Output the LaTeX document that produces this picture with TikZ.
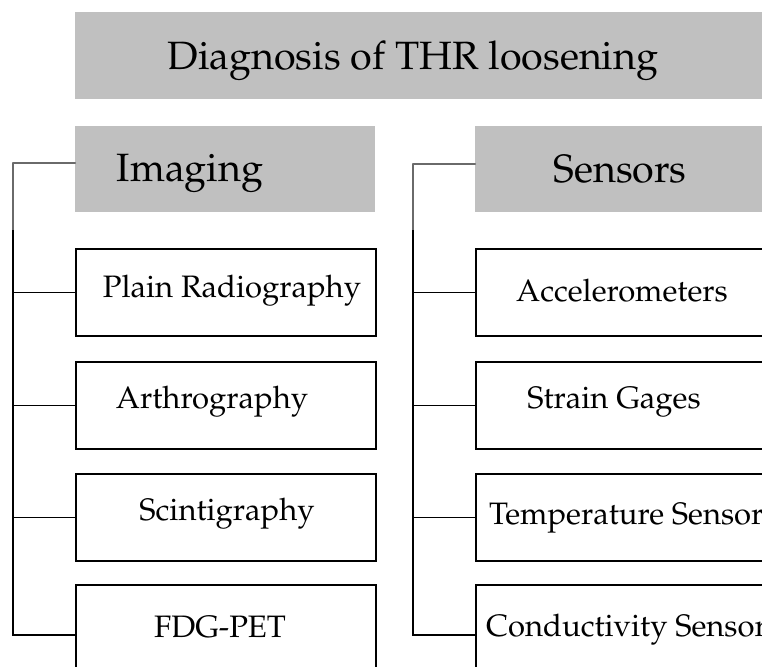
\documentclass[tikz,border=0pt]{standalone}
\usepackage[T1]{fontenc}
\renewcommand{\rmdefault}{ppl}
\definecolor{hdrgray}{HTML}{C0C0C0}
\definecolor{linegray}{HTML}{6A6A6A}
\tikzset{
  hdr/.style={fill=hdrgray, draw=none, anchor=north west, inner sep=0pt},
  itembox/.style={draw=black, line width=1.5pt, fill=white, anchor=north west, inner sep=0pt},
  bigtxt/.style={font=\fontsize{39.5}{46}\selectfont, inner sep=0pt},
  itemtxt/.style={font=\fontsize{31}{36}\selectfont, inner sep=0pt},
  conn/.style={draw=black, line width=1.5pt},
  gconn/.style={draw=linegray, line width=2.2pt, line cap=round, line join=round}
}
\begin{document}
\begin{tikzpicture}[x=1pt,y=-1pt]
\useasboundingbox (0,0) rectangle (762,666);
% title
\node[hdr, minimum width=740pt, minimum height=87pt] (title) at (75,12) {};
\node[bigtxt] (titletxt) at (413,61) {Diagnosis of THR loosening};
% headers
\node[hdr, minimum width=300pt, minimum height=86pt] (himg) at (75,126) {};
\node[bigtxt] (himgtxt) at (190,173) {Imaging};
\node[hdr, minimum width=320pt, minimum height=86pt] (hsen) at (475,126) {};
\node[bigtxt] (hsentxt) at (620,169) {Sensors};
% left boxes
\node[itembox, minimum width=300pt, minimum height=87pt] (l1) at (75,248) {};
\node[itemtxt] (l1t) at (232,291) {Plain Radiography};
\node[itembox, minimum width=300pt, minimum height=87pt] (l2) at (75,361) {};
\node[itemtxt] (l2t) at (212,402) {Arthrography};
\node[itembox, minimum width=300pt, minimum height=87pt] (l3) at (75,473) {};
\node[itemtxt] (l3t) at (227,514) {Scintigraphy};
\node[itembox, minimum width=300pt, minimum height=100pt] (l4) at (75,584) {};
\node[itemtxt] (l4t) at (220,627) {FDG-PET};
% right boxes
\node[itembox, minimum width=330pt, minimum height=87pt] (r1) at (475,248) {};
\node[itemtxt] (r1t) at (622,291) {Accelerometers};
\node[itembox, minimum width=330pt, minimum height=87pt] (r2) at (475,361) {};
\node[itemtxt] (r2t) at (614,402) {Strain Gages};
\node[itembox, minimum width=330pt, minimum height=87pt] (r3) at (475,473) {};
\node[itemtxt, anchor=west] (r3t) at (489,518) {Temperature Sensor};
\node[itembox, minimum width=330pt, minimum height=100pt] (r4) at (475,584) {};
\node[itemtxt, anchor=west] (r4t) at (486,630) {Conductivity Sensor};
% coordinates for brackets
\coordinate (lk) at (13,230);
\coordinate (rk) at (413,230);
% left connectors
\draw[gconn] ([yshift=6pt]himg.west) -| (lk);
\draw[conn] (lk) |- (l4.west);
\draw[conn] (l1.west) -- (l1.west -| lk);
\draw[conn] (l2.west) -- (l2.west -| lk);
\draw[conn] (l3.west) -- (l3.west -| lk);
% right connectors
\draw[gconn] ([yshift=5pt]hsen.west) -| (rk);
\draw[conn] (rk) |- (r4.west);
\draw[conn] (r1.west) -- (r1.west -| rk);
\draw[conn] (r2.west) -- (r2.west -| rk);
\draw[conn] (r3.west) -- (r3.west -| rk);
\end{tikzpicture}
\end{document}
